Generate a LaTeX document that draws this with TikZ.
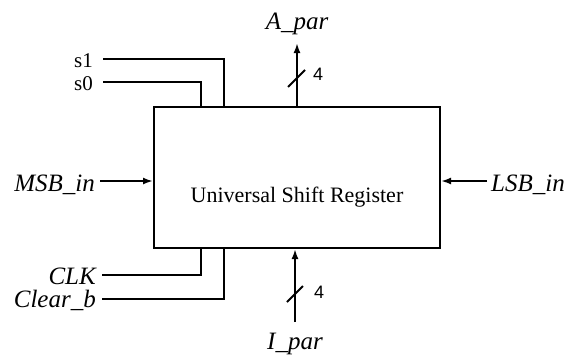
\documentclass[tikz,border=0pt]{standalone}
\usepackage{fontspec}
\setmainfont{Liberation Serif}
\newfontfamily\digitfont{Liberation Sans}
\usetikzlibrary{arrows.meta,positioning}

\tikzset{
  wire/.style={line width=2pt},
  sig/.style={wire,-{Latex[length=10pt,width=7pt]}},
  pinlabel/.style={font=\fontsize{25}{28}\selectfont\itshape, inner sep=0pt},
  sellabel/.style={font=\fontsize{21}{24}\selectfont, inner sep=0pt},
  buswidth/.style={font=\digitfont\fontsize{18}{20}\selectfont, inner sep=0pt},
}

\begin{document}
\begin{tikzpicture}[x=1pt,y=-1pt]
 \useasboundingbox (0,0) rectangle (580,354);
 \node[draw, wire, minimum width=286pt, minimum height=141pt, inner sep=0pt] (usr) at (297,177.5) {};
 \node[font=\fontsize{22}{24}\selectfont, anchor=base] (title) at (297,202) {Universal Shift Register};

 % select inputs
 \node[sellabel, anchor=base east] (s1) at (93,67) {s1};
 \node[sellabel, anchor=base east] (s0) at (93,90) {s0};
 \coordinate (s1w) at (103,59);
 \coordinate (s0w) at (103,82);
 \coordinate (s1top) at (224,107);
 \coordinate (s0top) at (201,107);
 \draw[wire] (s1w) -| (s1top);
 \draw[wire] (s0w) -| (s0top);

 % serial inputs
 \node[pinlabel, anchor=base east] (msb) at (95,191) {MSB\_in};
 \coordinate (msbw) at (100,181);
 \draw[sig] (msbw) -- (usr.west |- msbw);
 \node[pinlabel, anchor=base west] (lsb) at (491,191) {LSB\_in};
 \coordinate (lsbw) at (487,181);
 \draw[sig] (lsbw) -- (usr.east |- lsbw);

 % parallel out
 \node[pinlabel, anchor=base] (apar) at (297,29) {A\_par};
 \coordinate (aparw) at (297,43);
 \draw[sig] (usr.north) -- (aparw);
 \draw[wire] (288,87) -- (305,70);
 \node[buswidth] (abits) at (318,74) {4};

 % parallel in
 \node[pinlabel, anchor=base] (ipar) at (295,349) {I\_par};
 \coordinate (iparw) at (295,322);
 \draw[sig] (iparw) -- (iparw |- usr.south);
 \draw[wire] (287,302) -- (303,286);
 \node[buswidth] (ibits) at (319,292) {4};

 % clock and clear
 \node[pinlabel, anchor=base east] (clk) at (96,284) {CLK};
 \node[pinlabel, anchor=base east] (clr) at (96,307) {Clear\_b};
 \coordinate (clkw) at (102,275);
 \coordinate (clrw) at (102,299);
 \coordinate (clkbot) at (201,248);
 \coordinate (clrbot) at (224,248);
 \draw[wire] (clkw) -| (clkbot);
 \draw[wire] (clrw) -| (clrbot);
\end{tikzpicture}
\end{document}
